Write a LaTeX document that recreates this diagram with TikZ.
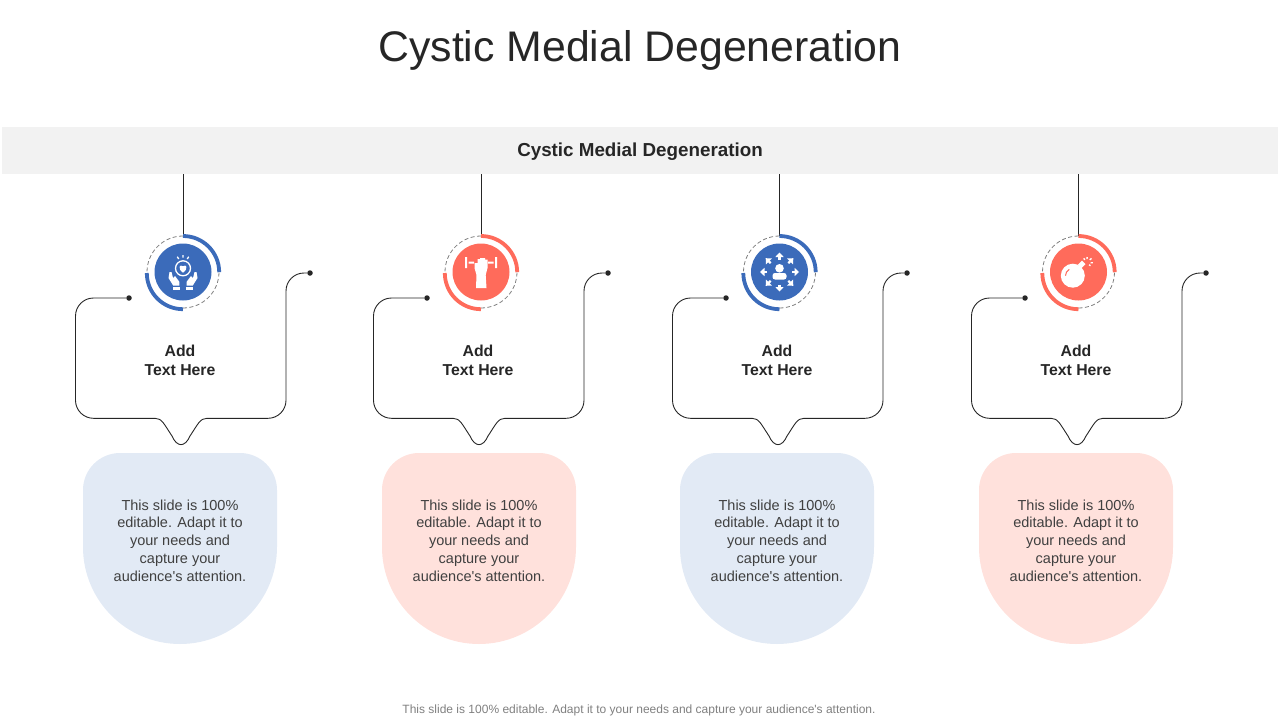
\documentclass[tikz,border=0pt]{standalone}
\usepackage{fontspec}
\usetikzlibrary{calc}
\setmainfont{Liberation Sans}[Ligatures=TeXOff]
\definecolor{iconblue}{HTML}{3B6BBA}
\definecolor{iconcoral}{HTML}{FF6B5B}
\definecolor{paleblue}{HTML}{E2EAF5}
\definecolor{palecoral}{HTML}{FFE1DC}
\definecolor{bandgray}{HTML}{F2F2F2}
\definecolor{inkdark}{HTML}{262626}
\definecolor{bodygray}{HTML}{404040}
\tikzset{
    frameline/.style={draw=inkdark,line width=0.9pt},
    dashline/.style={draw=gray,line width=0.8pt,dash pattern=on 4pt off 2.5pt},
    dotnode/.style={circle,fill=inkdark,inner sep=0pt,minimum size=5.5pt},
    discnode/.style={circle,inner sep=0pt,minimum size=57pt},
    ringnode/.style={circle,inner sep=0pt,minimum size=72pt},
    headnode/.style={align=center,text=inkdark,font=\bfseries\fontsize{15.8}{19}\selectfont},
    bodynode/.style={align=center,text=bodygray,font=\fontsize{14.5}{17.8}\selectfont},
}
\begin{document}
\begin{tikzpicture}[x=1pt,y=-1pt]
    \useasboundingbox (0,0) rectangle (1280,720);
    \node[text=inkdark,font=\fontsize{42.8}{50}\selectfont] (title) at (640,50) {Cystic Medial Degeneration};
    \node[fill=bandgray,minimum width=1276pt,minimum height=47pt,inner sep=0pt] (band) at (640,150.5) {};
    \node[text=inkdark,font=\bfseries\fontsize{18.8}{22}\selectfont] (bandtext) at (640,152) {Cystic Medial Degeneration};
    \node[text=gray,font=\fontsize{12}{14}\selectfont] (footer) at (639,710) {This slide is 100\% editable. Adapt it to your needs and capture your audience's attention.};
    \foreach \x/\rx/\bx/\n/\c/\p in {0/183/0/1/iconblue/paleblue,298/481/299/2/iconcoral/palecoral,597/779.5/597/3/iconblue/paleblue,896/1078.5/896/4/iconcoral/palecoral} {
        % ring and disc
        \node[ringnode] (ring\n) at (\rx,272) {};
        \node[discnode,fill=\c] (disc\n) at (\rx,272) {};
        \draw[frameline] (band.south -| ring\n.north) -- (ring\n.north);
        \draw[\c,line width=3.8pt] (\rx,236) arc[start angle=270,end angle=360,radius=36.2];
        \draw[\c,line width=3.8pt] (\rx-36.2,273) arc[start angle=180,end angle=90,radius=36.2];
        \draw[dashline] (\rx,236) arc[start angle=270,end angle=180,radius=36];
        \draw[dashline] (\rx,308) arc[start angle=90,end angle=0,radius=36];
        % frame
        \node[dotnode] (dotl\n) at (129+\x,298) {};
        \node[dotnode] (dotr\n) at (310+\x,273) {};
        \draw[frameline] (dotl\n) -- (93.5+\x,298) arc[start angle=270,end angle=180,radius=18]
            -- (75.5+\x,400.3) arc[start angle=180,end angle=90,radius=18] -- (155+\x,418.3)
            .. controls (162+\x,418.3) and (164+\x,424) .. (172+\x,436)
            .. controls (177+\x,447.5) and (185+\x,447.5) .. (190+\x,436)
            .. controls (198+\x,424) and (200+\x,418.3) .. (207+\x,418.3)
            -- (268+\x,418.3) arc[start angle=90,end angle=0,radius=18]
            -- (286+\x,291) arc[start angle=180,end angle=270,radius=18] -- (dotr\n);
        \node[headnode] (head\n) at (180+\x,360) {Add\\Text Here};
        % blob
        \fill[\p] (83+\bx,490) arc[start angle=180,end angle=270,radius=37] -- (240+\bx,453)
            arc[start angle=270,end angle=360,radius=37] -- (277+\bx,547)
            arc[start angle=0,end angle=180,radius=97] -- cycle;
        \node[bodynode] (body\n) at (180+\bx,540.5) {This slide is 100\%\\editable. Adapt it to\\your needs and\\capture your\\audience's attention.};
    }
    % hands
    \begin{scope}[shift={(disc1.center)},white]
        \draw[line width=1.3pt] (0,-3.7) circle[radius=7.5];
        \fill (0,0.7) .. controls (-6,-3.5) and (-3,-8.5) .. (0,-5.7) .. controls (3,-8.5) and (6,-3.5) .. (0,0.7);
        \draw[line width=1.3pt] (-5.7,-15.3) -- (-4.3,-13) (0,-17) -- (0,-14.3) (5.7,-15.3) -- (4.3,-13);
        \foreach \s in {1,-1} {
            \fill[xscale=\s] (-13.5,0) -- (-14.5,6) -- (-9.7,13.7) -- (-3.7,13.7) -- (-3.7,9.7) -- (-8,4) -- (-10,6) -- (-11.5,0) -- cycle;
            \fill[xscale=\s] (-10,15) rectangle (-3,18);
        }
    \end{scope}
    % dumbbell
    \begin{scope}[shift={(disc2.center)},white]
        \fill (-16,-15) rectangle (-14,-4) (14,-15) rectangle (16,-4);
        \fill (-12.5,-10.5) rectangle (-7,-8.5) (7,-10.5) rectangle (12.5,-8.5);
        \fill (-5,16) -- (-4.5,3) -- (-6.5,-4) -- (-6.5,-9) -- (-3.5,-9) -- (-3.5,-13) -- (-1,-13) -- (-1,-14) -- (1.5,-14) -- (4,-14) -- (4,-12.5) -- (6.5,-12.5) -- (6.5,-4) -- (4.7,3) -- (5.5,16) -- cycle;
    \end{scope}
    % person and arrows
    \begin{scope}[shift={(disc3.center)},white]
        \fill (0,-3.7) circle[radius=4.3];
        \fill[rounded corners=2.5pt] (-7,7.5) -- (-7,1) -- (7,1) -- (7,7.5) -- cycle;
        \foreach \a in {0,45,...,315} {
            \draw[rotate=\a,line width=2.2pt] (0,-12.5) -- (0,-15.5);
            \fill[rotate=\a] (-4.2,-15) -- (4.2,-15) -- (0,-19.5) -- cycle;
        }
    \end{scope}
    % bomb
    \begin{scope}[shift={(disc4.center)},white]
        \fill (-5.7,3.7) circle[radius=12];
        \fill[rotate around={45:(3,-7.7)}] (0,-10) rectangle (6,-5);
        \draw[iconcoral,line width=1pt] (-13,3.7) arc[start angle=180,end angle=240,radius=7.3];
        \foreach \a/\b in {5.3/-13.7,8.7/-15,13/-13.7,14.3/-9.3,12/-6.3} {
            \draw[line width=1.4pt] (\a,\b) -- ($(\a,\b)!0.35!(8,-9)$);
        }
    \end{scope}
\end{tikzpicture}
\end{document}
